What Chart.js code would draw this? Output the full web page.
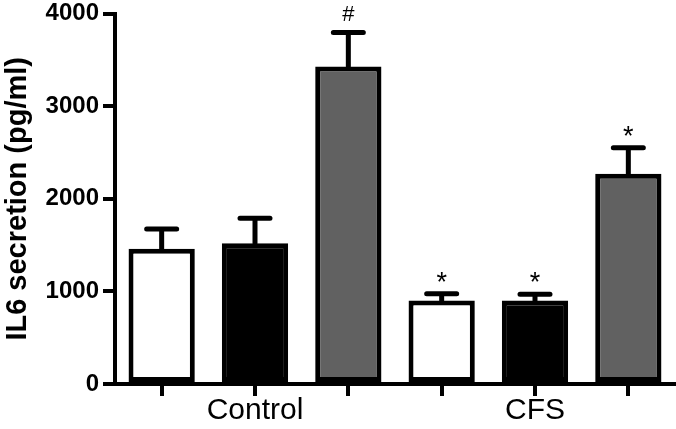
<!DOCTYPE html>
<html>
<head>
<meta charset="utf-8">
<script src="https://cdn.jsdelivr.net/npm/chart.js@4"></script>
<style>
  html, body { margin: 0; padding: 0; background: #fff; }
  #wrap { width: 676px; height: 429px; }
</style>
</head>
<body>
<div id="wrap"><canvas id="il6Chart"></canvas></div>
<script>
// groups and the three treatments shown inside each group
const groups = ["Control", "CFS"];
const fills = ["#ffffff", "#000000", "#616161"];

// mean and top of error bar, in group order (white, black, grey)
const means = [1460, 1520, 3430, 903, 903, 2270];
const errTops = [1675, 1790, 3795, 975, 968, 2550];
const marks = ["", "", "#", "*", "*", "*"];

const yTicks = [0, 1000, 2000, 3000, 4000];

// one slot per bar, group name sits under the middle bar
const labels = groups.flatMap(g => ["", g, ""]);
const barColors = groups.flatMap(() => fills);

Chart.defaults.font.family = "'Liberation Sans', Arial, sans-serif";
Chart.defaults.color = "#000";

const errorBars = {
  id: "errorBars",
  afterDatasetsDraw(chart) {
    const ctx = chart.ctx;
    const y = chart.scales.y;
    const meta = chart.getDatasetMeta(0);
    ctx.save();
    ctx.strokeStyle = "#000";
    ctx.fillStyle = "#000";
    ctx.lineWidth = 5;
    ctx.lineCap = "round";
    meta.data.forEach((bar, i) => {
      const top = y.getPixelForValue(errTops[i]);
      ctx.beginPath();
      ctx.moveTo(bar.x, bar.y);
      ctx.lineTo(bar.x, top);
      ctx.moveTo(bar.x - 15, top);
      ctx.lineTo(bar.x + 15, top);
      ctx.stroke();

      if (marks[i]) {
        const size = marks[i] === "*" ? 27 : 22;
        ctx.font = size + "px 'Liberation Sans', Arial, sans-serif";
        ctx.textAlign = "center";
        ctx.textBaseline = "alphabetic";
        const m = ctx.measureText(marks[i]);
        ctx.fillText(marks[i], bar.x, top - 12 - m.actualBoundingBoxDescent);
      }
    });
    ctx.restore();
  }
};

new Chart(document.getElementById("il6Chart"), {
  type: "bar",
  data: {
    labels: labels,
    datasets: [{
      data: means,
      backgroundColor: barColors,
      borderColor: "#000",
      borderWidth: 5,
      borderSkipped: false,
      barPercentage: 0.71,
      categoryPercentage: 1
    }]
  },
  options: {
    responsive: true,
    maintainAspectRatio: false,
    animation: false,
    devicePixelRatio: 1,
    layout: { padding: { top: 12, right: 1, left: 0, bottom: 0 } },
    plugins: {
      legend: { display: false },
      tooltip: { enabled: false }
    },
    scales: {
      x: {
        offset: true,
        grid: { offset: false, drawOnChartArea: false, color: "#000", lineWidth: 4, tickLength: 12 },
        border: { color: "#000", width: 4 },
        ticks: { autoSkip: false, maxRotation: 0, color: "#000", font: { size: 30 }, padding: -3 },
        afterFit(scale) { scale.height = 45; }
      },
      y: {
        min: 0,
        max: 4000,
        afterBuildTicks(scale) { scale.ticks = yTicks.map(v => ({ value: v })); },
        ticks: {
          color: "#000",
          font: { size: 24, weight: "bold", lineHeight: 0.8 },
          padding: 4,
          callback: v => String(v)
        },
        grid: { drawOnChartArea: false, color: "#000", lineWidth: 4, tickLength: 12 },
        border: { color: "#000", width: 4 },
        title: {
          display: true,
          text: "IL6 secretion (pg/ml)",
          color: "#000",
          font: { size: 29, weight: "bold" },
          padding: { top: 1, bottom: 0 }
        },
        afterFit(scale) { scale.width = 115; }
      }
    }
  },
  plugins: [errorBars]
});
</script>
</body>
</html>
